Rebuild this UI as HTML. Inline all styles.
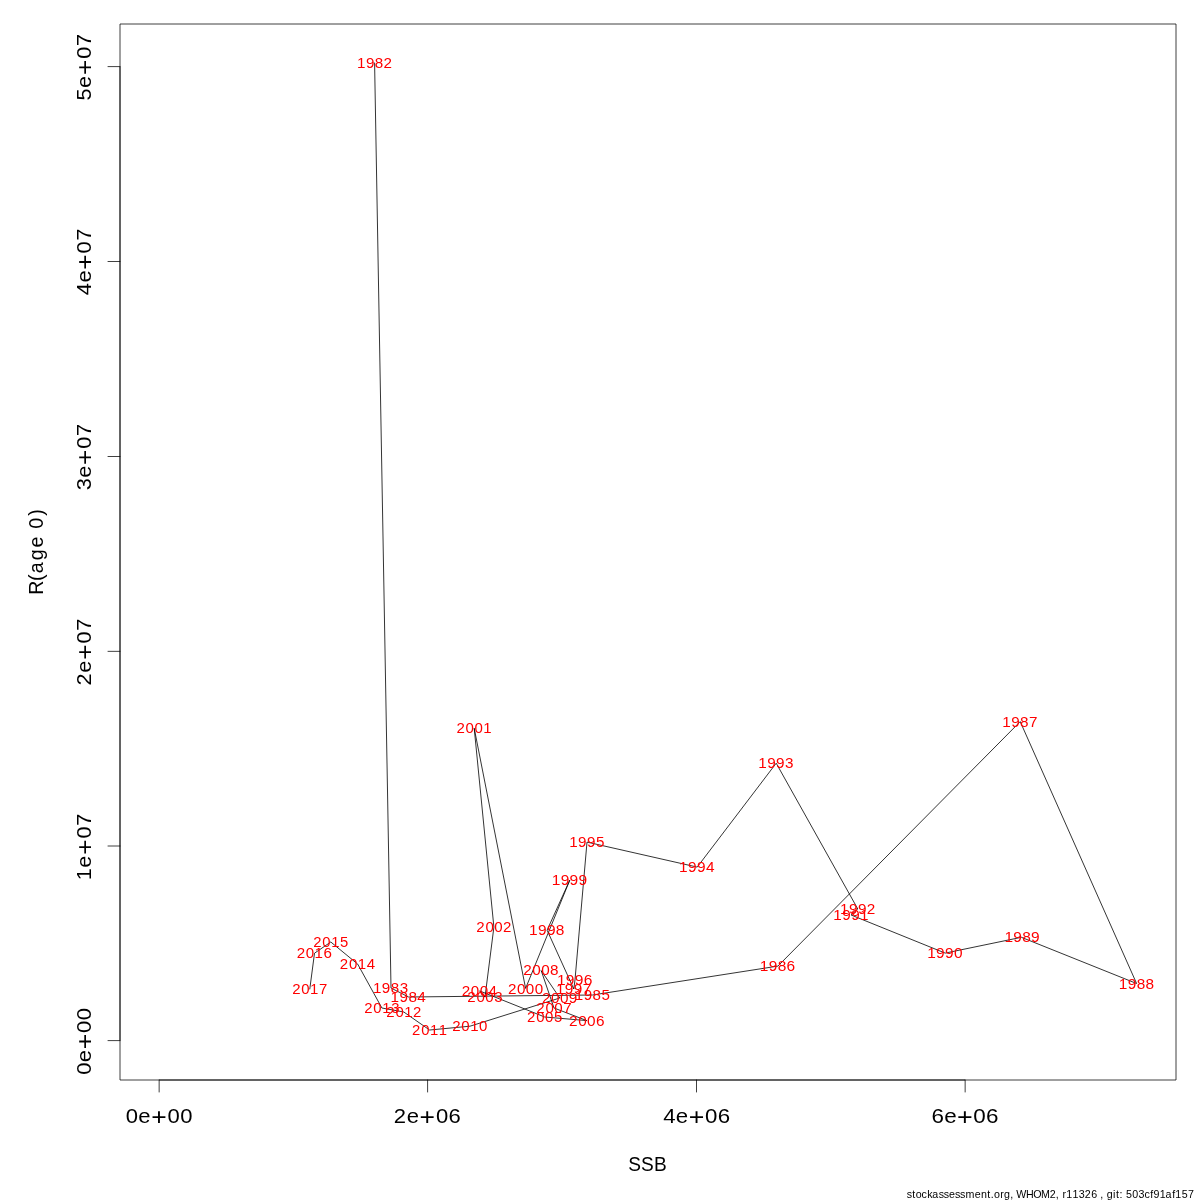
<!DOCTYPE html><html><head><meta charset="utf-8"><title>SSB vs R(age 0)</title><style>html,body{margin:0;padding:0;background:#fff;overflow:hidden;width:1200px;height:1200px;}svg{display:block;will-change:transform;}text{font-family:"Liberation Sans", sans-serif;white-space:pre;}</style></head><body>
<svg width="1200" height="1200" viewBox="0 0 1200 1200">
<rect x="0" y="0" width="1200" height="1200" fill="#fff"/>
<polyline points="374.6,63.0 391.0,988.0 408.6,997.0 592.5,995.0 777.9,966.1 1020.2,721.6 1136.6,983.5 1021.4,937.3 945.2,953.1 851.1,915.0 857.8,909.0 776.2,763.2 697.2,867.1 587.0,842.1 575.0,979.8 573.8,989.0 547.1,930.2 569.8,880.1 525.6,988.4 474.2,728.2 493.9,927.1 485.0,997.1 479.6,990.9 544.7,1017.0 586.8,1020.6 554.0,1008.0 541.2,970.6 559.8,998.0 470.0,1026.2 429.6,1030.0 403.8,1012.0 381.9,1008.0 357.7,964.1 330.8,942.0 314.5,953.2 309.8,989.0" fill="none" stroke="#000" stroke-width="0.8" stroke-linejoin="round" stroke-linecap="round"/>
<text transform="translate(374.70,68.00) scale(1.0486,1)" x="-16.92 -8.39 0.15 8.46" y="0.00" font-size="14.50" fill="#f00">1982</text>
<text transform="translate(390.80,993.00) scale(1.0477,1)" x="-17.06 -8.53 0.02 8.54" y="0.00" font-size="14.50" fill="#f00">1983</text>
<text transform="translate(408.60,1002.00) scale(1.0582,1)" x="-17.10 -8.64 -0.18 8.24" y="0.00" font-size="14.50" fill="#f00">1984</text>
<text transform="translate(592.50,1000.00) scale(1.0433,1)" x="-17.07 -8.50 0.08 8.57" y="0.00" font-size="14.50" fill="#f00">1985</text>
<text transform="translate(777.90,971.00) scale(1.0674,1)" x="-16.94 -8.56 -0.17 8.17" y="0.00" font-size="14.50" fill="#f00">1986</text>
<text transform="translate(1020.10,727.00) scale(1.0524,1)" x="-16.97 -8.47 0.03 8.47" y="0.00" font-size="14.50" fill="#f00">1987</text>
<text transform="translate(1136.80,989.00) scale(1.0610,1)" x="-16.98 -8.55 -0.11 8.28" y="0.00" font-size="14.50" fill="#f00">1988</text>
<text transform="translate(1022.40,942.00) scale(1.0669,1)" x="-16.90 -8.51 -0.12 8.19" y="0.00" font-size="14.50" fill="#f00">1989</text>
<text transform="translate(945.20,958.00) scale(1.0640,1)" x="-16.96 -8.55 -0.18 8.24" y="0.00" font-size="14.50" fill="#f00">1990</text>
<text transform="translate(851.10,920.00) scale(1.0521,1)" x="-16.93 -8.43 0.04 8.47" y="0.00" font-size="14.50" fill="#f00">1991</text>
<text transform="translate(857.80,914.00) scale(1.0545,1)" x="-16.85 -8.37 0.08 8.40" y="0.00" font-size="14.50" fill="#f00">1992</text>
<text transform="translate(776.10,768.00) scale(1.0535,1)" x="-16.99 -8.50 -0.05 8.47" y="0.00" font-size="14.50" fill="#f00">1993</text>
<text transform="translate(697.20,872.00) scale(1.0640,1)" x="-17.02 -8.62 -0.24 8.17" y="0.00" font-size="14.50" fill="#f00">1994</text>
<text transform="translate(587.00,847.00) scale(1.0491,1)" x="-17.00 -8.47 0.02 8.50" y="0.00" font-size="14.50" fill="#f00">1995</text>
<text transform="translate(575.00,985.00) scale(1.0733,1)" x="-16.87 -8.53 -0.23 8.11" y="0.00" font-size="14.50" fill="#f00">1996</text>
<text transform="translate(573.80,994.00) scale(1.0582,1)" x="-16.90 -8.45 -0.03 8.40" y="0.00" font-size="14.50" fill="#f00">1997</text>
<text transform="translate(547.10,935.00) scale(1.0669,1)" x="-16.91 -8.52 -0.17 8.22" y="0.00" font-size="14.50" fill="#f00">1998</text>
<text transform="translate(569.80,885.00) scale(1.0727,1)" x="-16.83 -8.49 -0.18 8.12" y="0.00" font-size="14.50" fill="#f00">1999</text>
<text transform="translate(525.70,994.00) scale(1.0489,1)" x="-16.99 -8.33 0.16 8.66" y="0.00" font-size="14.50" fill="#f00">2000</text>
<text transform="translate(474.10,733.00) scale(1.0371,1)" x="-16.97 -8.20 0.39 8.90" y="0.00" font-size="14.50" fill="#f00">2001</text>
<text transform="translate(493.90,932.00) scale(1.0394,1)" x="-16.89 -8.14 0.43 8.82" y="0.00" font-size="14.50" fill="#f00">2002</text>
<text transform="translate(485.00,1002.00) scale(1.0385,1)" x="-17.03 -8.28 0.30 8.90" y="0.00" font-size="14.50" fill="#f00">2003</text>
<text transform="translate(479.60,996.00) scale(1.0490,1)" x="-17.06 -8.40 0.10 8.59" y="0.00" font-size="14.50" fill="#f00">2004</text>
<text transform="translate(544.70,1022.00) scale(1.0341,1)" x="-17.04 -8.25 0.37 8.93" y="0.00" font-size="14.50" fill="#f00">2005</text>
<text transform="translate(587.00,1026.00) scale(1.0582,1)" x="-16.90 -8.31 0.11 8.52" y="0.00" font-size="14.50" fill="#f00">2006</text>
<text transform="translate(554.00,1013.00) scale(1.0432,1)" x="-16.94 -8.22 0.32 8.83" y="0.00" font-size="14.50" fill="#f00">2007</text>
<text transform="translate(541.00,975.00) scale(1.0518,1)" x="-16.95 -8.30 0.17 8.63" y="0.00" font-size="14.50" fill="#f00">2008</text>
<text transform="translate(559.80,1003.00) scale(1.0576,1)" x="-16.86 -8.27 0.16 8.54" y="0.00" font-size="14.50" fill="#f00">2009</text>
<text transform="translate(470.00,1031.00) scale(1.0371,1)" x="-17.14 -8.38 0.14 8.80" y="0.00" font-size="14.50" fill="#f00">2010</text>
<text transform="translate(429.60,1035.00) scale(1.0252,1)" x="-17.12 -8.25 0.36 9.05" y="0.00" font-size="14.50" fill="#f00">2011</text>
<text transform="translate(403.80,1017.00) scale(1.0275,1)" x="-17.04 -8.19 0.41 8.97" y="0.00" font-size="14.50" fill="#f00">2012</text>
<text transform="translate(381.90,1013.00) scale(1.0266,1)" x="-17.18 -8.33 0.27 9.05" y="0.00" font-size="14.50" fill="#f00">2013</text>
<text transform="translate(357.70,969.00) scale(1.0371,1)" x="-17.21 -8.45 0.07 8.73" y="0.00" font-size="14.50" fill="#f00">2014</text>
<text transform="translate(330.80,947.00) scale(1.0222,1)" x="-17.19 -8.30 0.34 9.08" y="0.00" font-size="14.50" fill="#f00">2015</text>
<text transform="translate(314.50,958.00) scale(1.0463,1)" x="-17.05 -8.36 0.08 8.66" y="0.00" font-size="14.50" fill="#f00">2016</text>
<text transform="translate(309.80,994.00) scale(1.0313,1)" x="-17.09 -8.27 0.29 8.98" y="0.00" font-size="14.50" fill="#f00">2017</text>
<rect x="120" y="24" width="1056" height="1056" fill="none" stroke="#000" stroke-width="0.75" stroke-linejoin="round"/>
<line x1="159.15" y1="1080" x2="965.15" y2="1080" stroke="#000" stroke-width="0.75"/>
<line x1="120" y1="1040.6" x2="120" y2="66.60" stroke="#000" stroke-width="0.75"/>
<line x1="159.15" y1="1080" x2="159.15" y2="1092" stroke="#000" stroke-width="0.75" stroke-linecap="round"/>
<line x1="427.60" y1="1080" x2="427.60" y2="1092" stroke="#000" stroke-width="0.75" stroke-linecap="round"/>
<line x1="696.50" y1="1080" x2="696.50" y2="1092" stroke="#000" stroke-width="0.75" stroke-linecap="round"/>
<line x1="965.15" y1="1080" x2="965.15" y2="1092" stroke="#000" stroke-width="0.75" stroke-linecap="round"/>
<line x1="108" y1="1040.60" x2="120" y2="1040.60" stroke="#000" stroke-width="0.75" stroke-linecap="round"/>
<line x1="108" y1="846.00" x2="120" y2="846.00" stroke="#000" stroke-width="0.75" stroke-linecap="round"/>
<line x1="108" y1="651.35" x2="120" y2="651.35" stroke="#000" stroke-width="0.75" stroke-linecap="round"/>
<line x1="108" y1="456.50" x2="120" y2="456.50" stroke="#000" stroke-width="0.75" stroke-linecap="round"/>
<line x1="108" y1="261.50" x2="120" y2="261.50" stroke="#000" stroke-width="0.75" stroke-linecap="round"/>
<line x1="108" y1="66.60" x2="120" y2="66.60" stroke="#000" stroke-width="0.75" stroke-linecap="round"/>
<text transform="translate(159.15,1116.30) scale(1.0998,1)" x="-30.36 -18.94 -7.21 7.63 19.21" y="6.91" font-size="20.06" fill="#000"><tspan>0e</tspan><tspan y="8.65" font-size="24.09">+</tspan><tspan y="6.91">00</tspan></text>
<text transform="translate(427.60,1116.30) scale(1.0995,1)" x="-30.71 -19.04 -7.31 7.54 19.11" y="6.91" font-size="20.06" fill="#000"><tspan>2e</tspan><tspan y="8.65" font-size="24.09">+</tspan><tspan y="6.91">06</tspan></text>
<text transform="translate(696.50,1116.30) scale(1.1093,1)" x="-30.02 -18.70 -7.09 7.64 19.11" y="6.91" font-size="20.06" fill="#000"><tspan>4e</tspan><tspan y="8.65" font-size="24.09">+</tspan><tspan y="6.91">06</tspan></text>
<text transform="translate(965.15,1116.30) scale(1.1189,1)" x="-30.01 -18.78 -7.28 7.34 18.71" y="6.91" font-size="20.06" fill="#000"><tspan>6e</tspan><tspan y="8.65" font-size="24.09">+</tspan><tspan y="6.91">06</tspan></text>
<text transform="translate(83.90,1041.30) rotate(-90) scale(1.0998,1)" x="-30.36 -18.94 -7.21 7.63 19.21" y="6.91" font-size="20.06" fill="#000"><tspan>0e</tspan><tspan y="8.65" font-size="24.09">+</tspan><tspan y="6.91">00</tspan></text>
<text transform="translate(83.90,846.70) rotate(-90) scale(1.0815,1)" x="-31.12 -19.40 -7.45 7.63 19.36" y="6.91" font-size="20.06" fill="#000"><tspan>1e</tspan><tspan y="8.65" font-size="24.09">+</tspan><tspan y="6.91">07</tspan></text>
<text transform="translate(83.90,652.05) rotate(-90) scale(1.0839,1)" x="-30.86 -19.03 -7.11 7.94 19.64" y="6.91" font-size="20.06" fill="#000"><tspan>2e</tspan><tspan y="8.65" font-size="24.09">+</tspan><tspan y="6.91">07</tspan></text>
<text transform="translate(83.90,457.20) rotate(-90) scale(1.0830,1)" x="-30.64 -19.07 -7.14 7.92 19.63" y="6.91" font-size="20.06" fill="#000"><tspan>3e</tspan><tspan y="8.65" font-size="24.09">+</tspan><tspan y="6.91">07</tspan></text>
<text transform="translate(83.90,262.20) rotate(-90) scale(1.0938,1)" x="-30.16 -18.68 -6.89 8.04 19.63" y="6.91" font-size="20.06" fill="#000"><tspan>4e</tspan><tspan y="8.65" font-size="24.09">+</tspan><tspan y="6.91">07</tspan></text>
<text transform="translate(83.90,67.30) rotate(-90) scale(1.0784,1)" x="-30.85 -19.13 -7.15 7.97 19.73" y="6.91" font-size="20.06" fill="#000"><tspan>5e</tspan><tspan y="8.65" font-size="24.09">+</tspan><tspan y="6.91">07</tspan></text>
<text transform="translate(647.60,1163.80) scale(0.9520,1)" x="-20.40 -7.06 6.69" y="6.91" font-size="20.06" fill="#000">SSB</text>
<text transform="translate(37.50,551.90) rotate(-90) scale(0.9887,1)" x="-43.33 -29.34 -21.64 -8.43 4.39 16.10 23.44 36.53" y="5.13" font-size="19.85" fill="#000">R(age 0)</text>
<text transform="translate(1050.20,1197.90) scale(0.9571,1)" x="-149.98 -144.16 -140.55 -134.41 -128.44 -123.12 -116.53 -111.20 -105.75 -99.56 -94.23 -88.48 -78.80 -72.41 -65.65 -61.99 -58.78 -52.11 -48.25 -41.87 -38.58 -35.54 -25.39 -17.82 -9.68 -0.60 5.87 9.16 12.84 16.71 23.22 29.81 36.18 42.83 49.19 52.42 55.70 59.04 65.64 68.73 72.49 75.76 79.13 85.68 92.21 98.46 104.57 107.91 114.40 120.46 127.48 130.79 137.33 143.86" y="0.00" font-size="11.17" fill="#000">stockassessment.org, WHOM2, r11326 , git: 503cf91af157</text>
</svg></body></html>
